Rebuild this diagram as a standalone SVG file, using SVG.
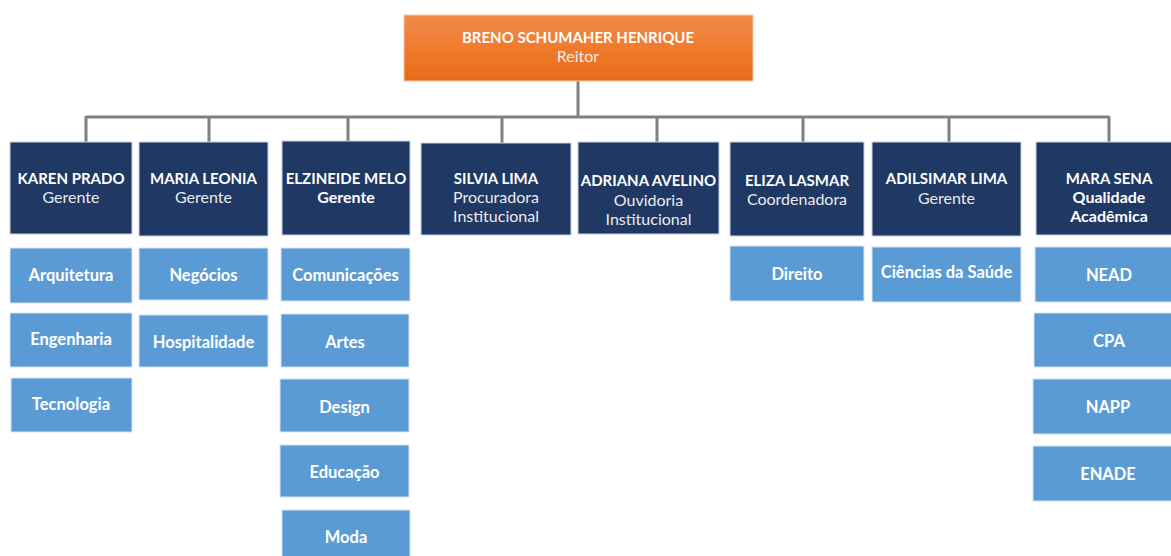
<svg xmlns="http://www.w3.org/2000/svg" width="1171" height="556" viewBox="0 0 1171 556">
<defs>
<linearGradient id="og" x1="0" y1="0" x2="0" y2="1">
<stop offset="0" stop-color="#f18a4c"/>
<stop offset="0.5" stop-color="#f07b2c"/>
<stop offset="1" stop-color="#e66b18"/>
</linearGradient>
<style>
.dk{fill:#203864;stroke:#c9d3e3;stroke-width:1}
.lt{fill:#5b9bd5;stroke:#d6e4f3;stroke-width:1}
.top{fill:url(#og);stroke:#f6c8a8;stroke-width:1}
text{font-family:Lato,"Open Sans","Liberation Sans",sans-serif;font-size:15px;text-anchor:middle;fill:#ffffff}
.b{font-weight:bold}
.s{fill:#ebebeb;font-size:16px}
.u{font-weight:bold;font-size:16.5px}
.c{fill:none;stroke:#808080;stroke-width:3}
</style>
</defs>
<g id="connectors">
<path class="c" d="M578,81 V117 M86,117 H1109 M86,116 V142 M209,116 V142 M348,116 V141 M502,116 V143 M657,116 V142 M803,116 V142 M949,116 V142 M1109,116 V142"/>
</g>
<g id="reitor">
<rect class="top" x="404" y="15" width="349" height="66"/>
<text class="b" x="578" y="43">BRENO SCHUMAHER HENRIQUE</text>
<text class="s" x="578" y="62">Reitor</text>
</g>
<g id="karen">
<rect class="dk" x="10" y="142" width="122" height="92"/>
<text class="b" x="71" y="184">KAREN PRADO</text>
<text class="s" x="71" y="203">Gerente</text>
</g>
<g id="maria">
<rect class="dk" x="139" y="142" width="129" height="94"/>
<text class="b" x="203.5" y="184">MARIA LEONIA</text>
<text class="s" x="203.5" y="203">Gerente</text>
</g>
<g id="elzineide">
<rect class="dk" x="282" y="141" width="128" height="94"/>
<text class="b" x="346" y="184">ELZINEIDE MELO</text>
<text class="b" x="346" y="203" style="font-size:16px">Gerente</text>
</g>
<g id="silvia">
<rect class="dk" x="421" y="143" width="150" height="92"/>
<text class="b" x="496" y="184">SILVIA LIMA</text>
<text class="s" x="496" y="203">Procuradora</text>
<text class="s" x="496" y="222">Institucional</text>
</g>
<g id="adriana">
<rect class="dk" x="578" y="142" width="141" height="92"/>
<text class="b" x="648.5" y="186">ADRIANA AVELINO</text>
<text class="s" x="648.5" y="206">Ouvidoria</text>
<text class="s" x="648.5" y="225">Institucional</text>
</g>
<g id="eliza">
<rect class="dk" x="730" y="142" width="134" height="94"/>
<text class="b" x="797" y="186">ELIZA LASMAR</text>
<text class="s" x="797" y="205">Coordenadora</text>
</g>
<g id="adilsimar">
<rect class="dk" x="872" y="142" width="149" height="94"/>
<text class="b" x="946.5" y="184">ADILSIMAR LIMA</text>
<text class="s" x="946.5" y="204">Gerente</text>
</g>
<g id="mara">
<rect class="dk" x="1036" y="142" width="140" height="93"/>
<text class="b" x="1109" y="184">MARA SENA</text>
<text class="b" x="1109" y="203" style="font-size:16px">Qualidade</text>
<text class="b" x="1109" y="222" style="font-size:16px">Acadêmica</text>
</g>
<g id="arquitetura"><rect class="lt" x="10" y="248" width="122" height="55"/><text class="u" x="71" y="281">Arquitetura</text></g>
<g id="engenharia"><rect class="lt" x="10" y="313" width="122" height="54"/><text class="u" x="71" y="345">Engenharia</text></g>
<g id="tecnologia"><rect class="lt" x="11" y="378" width="121" height="54"/><text class="u" x="71" y="410">Tecnologia</text></g>
<g id="negocios"><rect class="lt" x="139" y="248" width="129" height="52"/><text class="u" x="203.5" y="281">Negócios</text></g>
<g id="hospitalidade"><rect class="lt" x="139" y="315" width="129" height="52"/><text class="u" x="203.5" y="348">Hospitalidade</text></g>
<g id="comunicacoes"><rect class="lt" x="281" y="248" width="129" height="53"/><text class="u" x="345.5" y="281">Comunicações</text></g>
<g id="artes"><rect class="lt" x="281" y="314" width="128" height="53"/><text class="u" x="345" y="348">Artes</text></g>
<g id="design"><rect class="lt" x="280" y="379" width="129" height="53"/><text class="u" x="344.5" y="413">Design</text></g>
<g id="educacao"><rect class="lt" x="280" y="445" width="129" height="52"/><text class="u" x="344.5" y="478">Educação</text></g>
<g id="moda"><rect class="lt" x="282" y="510" width="128" height="50"/><text class="u" x="346" y="543">Moda</text></g>
<g id="direito"><rect class="lt" x="730" y="246" width="134" height="55"/><text class="u" x="797" y="280">Direito</text></g>
<g id="ciencias"><rect class="lt" x="872" y="247" width="149" height="55"/><text class="u" x="946.5" y="278">Ciências da Saúde</text></g>
<g id="nead"><rect class="lt" x="1035" y="247" width="140" height="55"/><text class="u" x="1109" y="281">NEAD</text></g>
<g id="cpa"><rect class="lt" x="1034" y="313" width="141" height="54"/><text class="u" x="1109" y="347">CPA</text></g>
<g id="napp"><rect class="lt" x="1033" y="379" width="142" height="55"/><text class="u" x="1108" y="413">NAPP</text></g>
<g id="enade"><rect class="lt" x="1033" y="446" width="142" height="55"/><text class="u" x="1108" y="480">ENADE</text></g>
</svg>
